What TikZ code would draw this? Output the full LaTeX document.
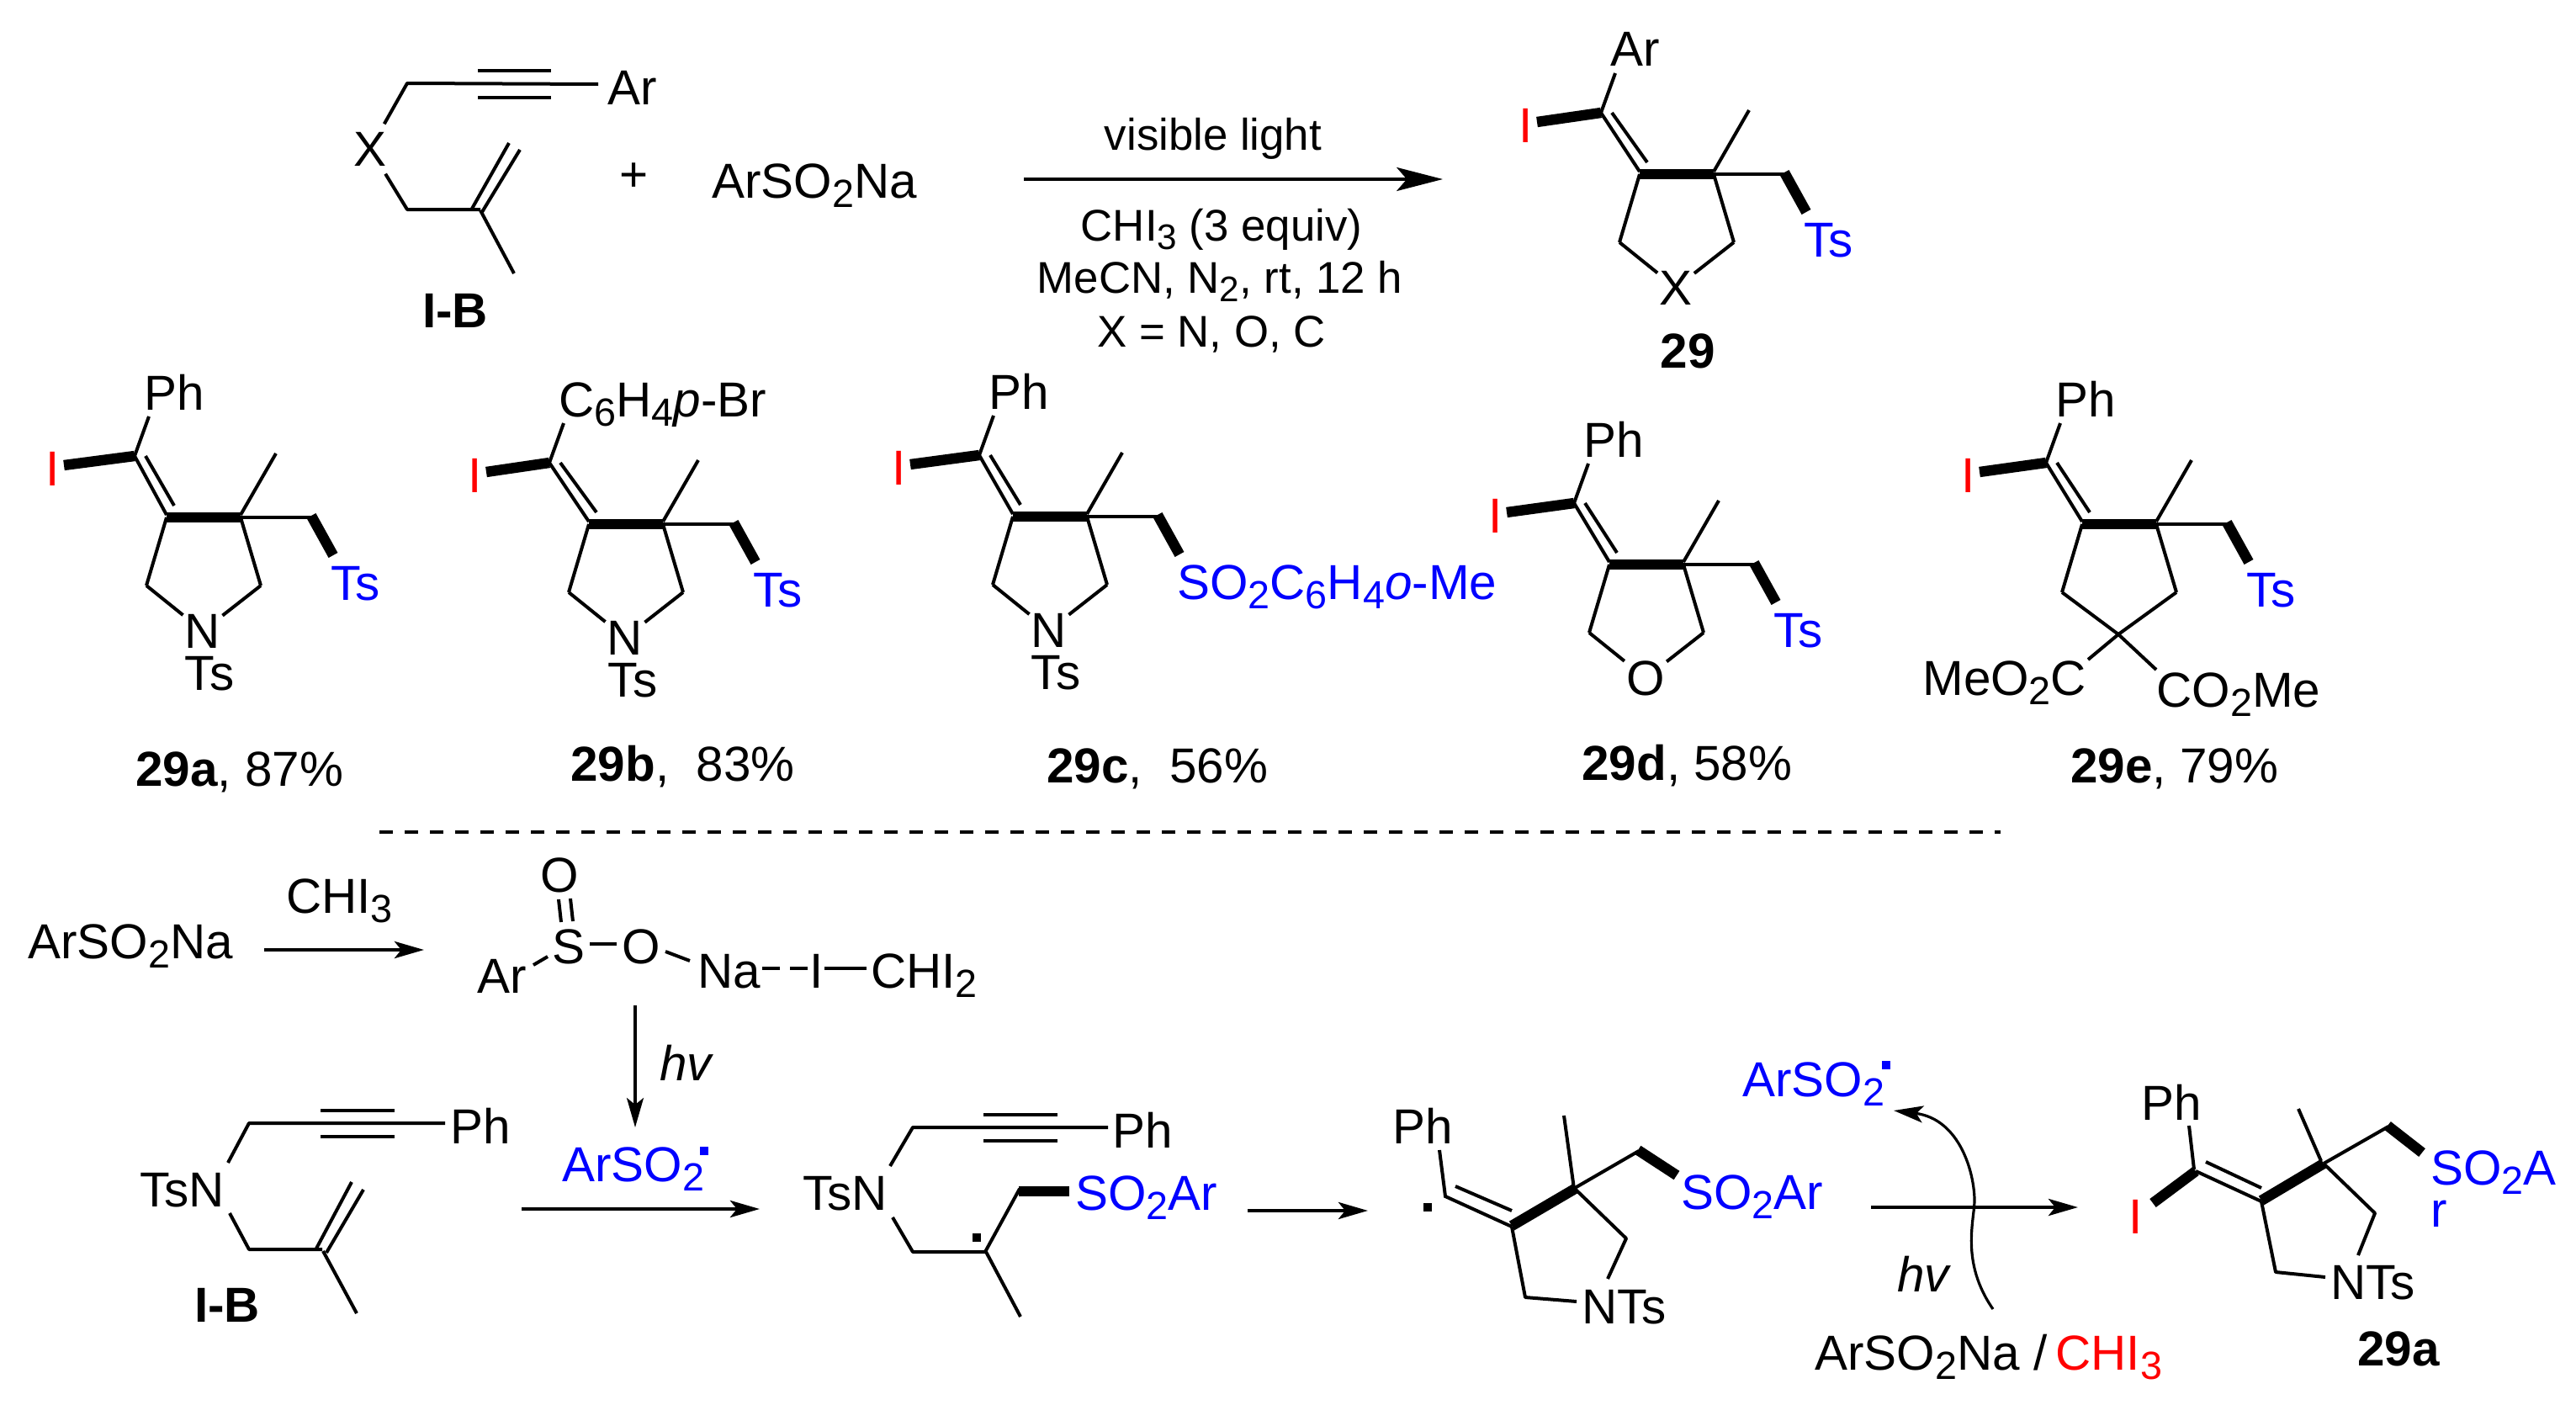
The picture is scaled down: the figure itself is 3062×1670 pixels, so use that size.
\documentclass[tikz,border=0pt]{standalone}
\usepackage{fontspec}
\setmainfont{Liberation Sans}
\usetikzlibrary{arrows.meta}

\newcommand{\chemsize}{\fontsize{14.6}{12.5}\selectfont}
\newcommand{\chemsub}[1]{\raisebox{-0.19em}{\scalebox{0.8}{#1}}}

% name, x, y of the ring carbon, x of the vinyl carbon, aryl text, tail text
\newcommand{\ringmol}[6]{
  \begin{scope}[shift={(#2,#3)}]
    \coordinate (#1l) at (0,0);
    \coordinate (#1r) at (88,0);
    \coordinate (#1ci) at (#4,-73);
    \coordinate (#1ch) at (173,0);
    \coordinate (#1rl) at (-24,81);
    \coordinate (#1rr) at (112,81);
    \node[label] (#1sub) at ([shift={(13,-55)}]#1ci) {#5};
    \node[iodo] (#1i) at (-135,-58) {I};
    \node[bluelabel] (#1ts) at (197,98) {#6};
    \draw[boldbond] (#1ci) -- (-122,-62);
    \draw[bond] (#1ci) -- ([shift={(17,-47)}]#1ci);
    \draw[bond] (#1ci) -- (0,-3);
    \draw[bond] ([shift={(13,0)}]#1ci) -- (9,-14);
    \draw[boldbond] (#1l) -- (#1r);
    \draw[bond] (88,-3) -- (130,-76);
    \draw[bond] (#1r) -- (#1ch);
    \draw[boldbond] (172,-2) -- (198,45);
    \draw[bond,line join=round] (0,0) -- (#1rl);
    \draw[bond] (#1r) -- (#1rr);
  \end{scope}
}
\newcommand{\ringatom}[2]{
  \node[atom] (#1x) at ([shift={(43,135)}]#1l) {#2};
  \draw[bond,line join=round] (#1rl) -- (#1x);
  \draw[bond,line join=round] (#1rr) -- (#1x);
}

\begin{document}
\begin{tikzpicture}[x=0.25pt,y=-0.25pt,
  atom/.style={font=\chemsize,inner sep=0.4pt},
  iodo/.style={atom,text=red},
  label/.style={atom,anchor=base west,xshift=-1pt},
  bluelabel/.style={label,text=blue},
  redlabel/.style={label,text=red},
  boldlabel/.style={atom,font=\chemsize\bfseries,anchor=base},
  condition/.style={atom,font=\fontsize{13.2}{15}\selectfont,anchor=base},
  bond/.style={line width=1pt},
  boldbond/.style={line width=3.1pt},
  bigarrow/.style={line width=1pt,-{Stealth[length=13.7pt,width=7pt,inset=3pt]}},
  smallarrow/.style={line width=1.15pt,-{Stealth[length=8.75pt,width=5pt,inset=2pt]}},
  thinarrow/.style={line width=0.8pt,-{Stealth[length=8.75pt,width=5pt,inset=2pt]}},
  raddot/.style={rectangle,fill=black,inner sep=0pt,minimum size=2.4pt}]
  \useasboundingbox (0,0) rectangle (3062,1670);

  % top scheme: I-B
  \node[atom,inner sep=2.2pt] (xa) at (440,177) {X};
  \node[label] (ar1) at (724,124) {Ar};
  \draw[bond,line join=round] (xa) -- (484,99) -- (711,100);
  \draw[bond] (568,84) -- (655,84);
  \draw[bond] (568,116) -- (655,116);
  \draw[bond,line join=round] (xa) -- (484,249) -- (571,249);
  \draw[bond] (561,248) -- (605,170);
  \draw[bond] (573,252) -- (618,178);
  \draw[bond] (571,250) -- (611,325);
  \node[boldlabel] (ib1) at (541,389) {I-B};
  \node[atom] (plus) at (754,211) {+};
  \node[label] (sul1) at (848,235) {ArSO\chemsub{2}Na};

  \coordinate (ar1s) at (1217,213);
  \coordinate (ar1e) at (1715,213);
  \draw[bigarrow] (ar1s) -- (ar1e);
  \node[condition] (cond1) at (1442,178) {visible light};
  \node[condition] (cond2) at (1452,286) {CHI\chemsub{3} (3 equiv)};
  \node[condition] (cond3) at (1450,348) {MeCN, N\chemsub{2}, rt, 12 h};
  \node[condition] (cond4) at (1440,412) {X = N, O, C};

  % products
  \ringmol{p}{1949}{207}{-46}{Ar}{Ts}
  \ringatom{p}{X}
  \node[boldlabel] (lab29) at (2006,437) {29};

  \ringmol{a}{198}{615}{-38}{Ph}{Ts}
  \ringatom{a}{N}
  \node[atom,anchor=base] (ats) at (249,820) {Ts};
  \node[label] (laba) at (163,934) {\textbf{29a}, 87\%};

  \ringmol{b}{700}{623}{-47}{C\chemsub{6}H\chemsub{4}\textit{p}-Br}{Ts}
  \ringatom{b}{N}
  \node[atom,anchor=base] (bts) at (752,828) {Ts};
  \node[label] (labb) at (680,928) {\textbf{29b},\ \ 83\%};

  \ringmol{c}{1204}{614}{-40}{Ph}{SO\chemsub{2}C\chemsub{6}H\chemsub{4}\textit{o}-Me}
  \ringatom{c}{N}
  \node[atom,anchor=base] (cts) at (1255,819) {Ts};
  \node[label] (labc) at (1246,930) {\textbf{29c},\ \ 56\%};

  \ringmol{d}{1913}{671}{-42}{Ph}{Ts}
  \ringatom{d}{O}
  \node[label] (labd) at (1882,927) {\textbf{29d}, 58\%};

  \ringmol{e}{2475}{623}{-43}{Ph}{Ts}
  \coordinate (ec) at (2518,754);
  \draw[bond,line join=round] (erl) -- (ec);
  \draw[bond,line join=round] (err) -- (ec);
  \node[label] (este1) at (2287,826) {MeO\chemsub{2}C};
  \node[label] (este2) at (2565,840) {CO\chemsub{2}Me};
  \draw[bond] (ec) -- (2482,784);
  \draw[bond] (ec) -- (2563,796);
  \node[label] (labe) at (2463,930) {\textbf{29e}, 79\%};

  \draw[line width=1pt,dash pattern=on 4pt off 3.5pt] (451,989) -- (2378,989);

  % mechanism, first row
  \node[label] (sul2) at (35,1139) {ArSO\chemsub{2}Na};
  \coordinate (ar2s) at (314,1129);
  \coordinate (ar2e) at (504,1129);
  \draw[smallarrow] (ar2s) -- (ar2e);
  \node[label] (chi1) at (342,1085) {CHI\chemsub{3}};
  \node[atom] (so) at (665,1040) {O};
  \node[atom] (ss) at (676,1125) {S};
  \node[atom] (oo) at (762,1125) {O};
  \node[label] (ar3) at (569,1180) {Ar};
  \node[label] (na) at (831,1174) {Na};
  \node[label] (ii) at (964,1174) {I};
  \node[label] (chi2) at (1037,1174) {CHI\chemsub{2}};
  \draw[bond] (664,1069) -- (667,1096);
  \draw[bond] (678,1068) -- (681,1095);
  \draw[bond] (634,1147) -- (651,1137);
  \draw[bond] (701,1122) -- (733,1122);
  \draw[bond] (791,1131) -- (820,1142);
  \draw[bond,dash pattern=on 5.25pt off 3pt] (906,1151) -- (960,1151);
  \draw[bond] (980,1151) -- (1030,1151);

  \coordinate (ar3s) at (755,1195);
  \coordinate (ar3e) at (755,1340);
  \draw[thinarrow] (ar3s) -- (ar3e);
  \node[label] (hv1) at (786,1284) {\textit{hv}};
  \node[bluelabel] (rad1) at (670,1404) {ArSO\chemsub{2}};
  \node[raddot,fill=blue] (rad1d) at (837,1368) {};

  % mechanism, I-B
  \node[label] (tsn1) at (168,1434) {TsN};
  \node[label] (ph1) at (537,1359) {Ph};
  \draw[bond,line join=round] (271,1382) -- (296,1335) -- (529,1335);
  \draw[bond] (381,1320) -- (469,1320);
  \draw[bond] (381,1351) -- (469,1351);
  \draw[bond,line join=round] (273,1442) -- (296,1485) -- (383,1485);
  \draw[bond] (376,1484) -- (418,1405);
  \draw[bond] (388,1489) -- (432,1414);
  \draw[bond] (384,1487) -- (424,1561);
  \node[boldlabel] (ib2) at (270,1571) {I-B};

  \coordinate (ar4s) at (620,1437);
  \coordinate (ar4e) at (903,1437);
  \draw[smallarrow] (ar4s) -- (ar4e);

  % mechanism, radical adduct
  \node[label] (tsn2) at (956,1438) {TsN};
  \node[label] (ph2) at (1324,1364) {Ph};
  \draw[bond,line join=round] (1058,1386) -- (1085,1340) -- (1317,1340);
  \draw[bond] (1169,1325) -- (1257,1325);
  \draw[bond] (1169,1356) -- (1257,1356);
  \draw[bond,line join=round] (1061,1447) -- (1085,1488) -- (1171,1488) -- (1212,1413);
  \draw[boldbond] (1211,1416) -- (1271,1416);
  \draw[bond] (1171,1486) -- (1213,1565);
  \node[raddot] (rad2d) at (1161,1471) {};
  \node[bluelabel] (so2a) at (1280,1438) {SO\chemsub{2}Ar};

  \coordinate (ar5s) at (1483,1439);
  \coordinate (ar5e) at (1626,1439);
  \draw[smallarrow] (ar5s) -- (ar5e);

  % mechanism, cyclised radical
  \node[label] (ph3) at (1657,1359) {Ph};
  \node[raddot] (rad3d) at (1697,1435) {};
  \draw[bond] (1711,1367) -- (1718,1422) -- (1797,1458);
  \draw[bond] (1730,1410) -- (1797,1439);
  \draw[boldbond] (1797,1457) -- (1872,1413);
  \draw[bond] (1859,1326) -- (1871,1413);
  \draw[bond,line join=round] (1872,1412) -- (1948,1368);
  \draw[boldbond] (1947,1367) -- (1993,1397);
  \draw[bond,line join=round] (1797,1458) -- (1813,1542) -- (1874,1547);
  \draw[bond,line join=round] (1872,1413) -- (1933,1472) -- (1911,1520);
  \node[label] (nts1) at (1882,1573) {NTs};
  \node[bluelabel] (so2b) at (2000,1437) {SO\chemsub{2}Ar};

  \coordinate (ar6s) at (2224,1435);
  \coordinate (ar6e) at (2470,1435);
  \draw[smallarrow] (ar6s) -- (ar6e);

  % chain transfer
  \node[bluelabel] (rad4) at (2073,1303) {ArSO\chemsub{2}};
  \node[raddot,fill=blue] (rad4d) at (2242,1266) {};
  \coordinate (cvs) at (2369,1556);
  \coordinate (cvm) at (2347,1427);
  \coordinate (cve) at (2251,1320);
  \draw[thinarrow] (cvs) .. controls (2330,1500) and (2347,1450) .. (cvm)
     .. controls (2347,1395) and (2330,1330) .. (cve);
  \node[label] (hv2) at (2257,1535) {\textit{hv}};
  \node[label] (sul3) at (2159,1628) {ArSO\chemsub{2}Na /};
  \node[redlabel] (chi3) at (2445,1628) {CHI\chemsub{3}};

  % final product
  \node[label] (ph4) at (2547,1331) {Ph};
  \node[iodo] (i4) at (2539,1446) {I};
  \draw[bond] (2602,1338) -- (2608,1390);
  \draw[boldbond] (2610,1392) -- (2559,1430);
  \draw[bond] (2610,1392) -- (2688,1428);
  \draw[bond] (2622,1381) -- (2688,1412);
  \draw[boldbond] (2688,1427) -- (2762,1383);
  \draw[bond] (2732,1318) -- (2759,1380);
  \draw[bond] (2762,1383) -- (2839,1339);
  \draw[boldbond] (2838,1338) -- (2879,1370);
  \draw[bond,line join=round] (2688,1428) -- (2705,1512) -- (2764,1518);
  \draw[bond,line join=round] (2762,1383) -- (2823,1442) -- (2803,1492);
  \node[label] (nts2) at (2772,1544) {NTs};
  \node[bluelabel,align=left] (so2c) at (2891,1458) {SO\chemsub{2}A\\r};
  \node[boldlabel] (lab29a) at (2851,1623) {29a};
\end{tikzpicture}
\end{document}
